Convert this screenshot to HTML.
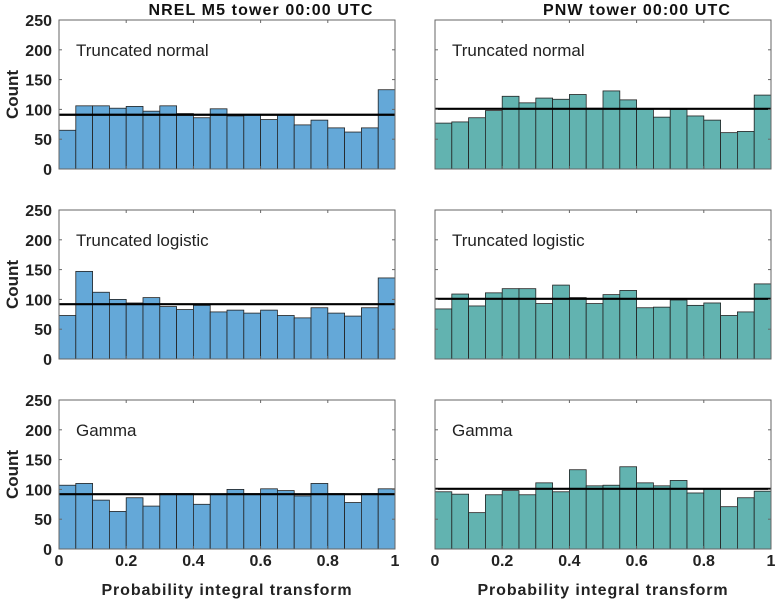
<!DOCTYPE html>
<html><head><meta charset="utf-8"><style>
body{margin:0;background:#fff;}
svg{display:block;font-family:"Liberation Sans",sans-serif;}
</style></head><body>
<svg id="fig" width="776" height="601"></svg>
<script>
const binEdgesCount = 20;
const xTicks = [0,0.2,0.4,0.6,0.8,1];
const xTickLabels = ["0","0.2","0.4","0.6","0.8","1"];
const yTicks = [0,50,100,150,200,250];
const columnTitles = ["NREL M5 tower 00:00 UTC","PNW tower 00:00 UTC"];
const rowLabels = ["Truncated normal","Truncated logistic","Gamma"];
const nrelNormal = [65,106,106,102,105,97,106,93,86,101,89,91,83,91,74,82,69,62,69,133];
const pnwNormal = [77,79,86,98,122,111,119,117,125,102,131,116,100,87,100,89,82,61,63,124];
const nrelLogistic = [73,147,112,100,94,103,88,83,90,79,82,77,82,73,69,86,77,72,86,136];
const pnwLogistic = [84,109,89,111,118,118,93,124,103,93,108,115,86,87,99,90,94,73,79,126];
const nrelGamma = [107,110,82,63,86,72,93,93,75,92,100,93,101,98,89,110,93,78,93,101];
const pnwGamma = [96,92,61,91,98,91,111,96,133,106,107,138,111,106,115,94,101,71,86,97];
const nrelUniform = [91,92,92];
const pnwUniform = [101,101,101];

const series = [[nrelNormal,pnwNormal],[nrelLogistic,pnwLogistic],[nrelGamma,pnwGamma]];
const colX = [59,435], axW = 336, rowY = [20,210,400], axH = 149;
const titleX = [261,637];
const fills = ["#64a8d8","#62b3b0"];
const NS = "http://www.w3.org/2000/svg";
const svg = document.getElementById('fig');
function mk(tag, attrs, parent){const e=document.createElementNS(NS,tag);for(const k in attrs)e.setAttribute(k,attrs[k]);(parent||svg).appendChild(e);return e;}

columnTitles.forEach((t,c)=>{
  const e=mk('text',{x:titleX[c],y:15,'text-anchor':'middle','font-size':16,'font-weight':'bold','letter-spacing':1.1,fill:'#111'});
  e.textContent=t;
  
  
});

for(let r=0;r<3;r++){
  for(let c=0;c<2;c++){
    const x0=colX[c], y0=rowY[r];
    const sx=v=>x0+v*axW;
    const sy=v=>y0+axH-v/250*axH;
    const g=mk('g',{});
    
    
    mk('rect',{x:x0,y:y0,width:axW,height:axH,fill:'#fff',stroke:'none'},g);
    const vals=series[r][c];
    vals.forEach((v,i)=>{
      const b=mk('rect',{x:sx(i/binEdgesCount),y:sy(v),width:axW/binEdgesCount,height:sy(0)-sy(v),fill:fills[c],stroke:'#222','stroke-width':0.8},g);
      
      
    });
    const u=(c===0?nrelUniform:pnwUniform)[r];
    const ln=mk('line',{x1:x0,x2:x0+axW,y1:sy(u),y2:sy(u),stroke:'#000','stroke-width':2.2},g);
    
    
    mk('rect',{x:x0,y:y0,width:axW,height:axH,fill:'none',stroke:'#666','stroke-width':1},g);
    xTicks.forEach(t=>{
      mk('line',{x1:sx(t),x2:sx(t),y1:y0,y2:y0+3,stroke:'#666'},g);
      mk('line',{x1:sx(t),x2:sx(t),y1:y0+axH,y2:y0+axH-3,stroke:'#666'},g);
    });
    yTicks.forEach(t=>{
      mk('line',{x1:x0,x2:x0+3,y1:sy(t),y2:sy(t),stroke:'#666'},g);
      mk('line',{x1:x0+axW,x2:x0+axW-3,y1:sy(t),y2:sy(t),stroke:'#666'},g);
      if(c===0){
        const tl=mk('text',{x:x0-7,y:sy(t)+6,'text-anchor':'end','font-size':16,'font-weight':'bold',fill:'#222'},g);
        tl.textContent=t;
        
        
      }
    });
    const lab=mk('text',{x:x0+17,y:y0+36,'font-size':17,fill:'#222'},g);
    lab.textContent=rowLabels[r];
    
    
    if(c===0){
      const yl=mk('text',{x:0,y:0,transform:`translate(18,${y0+axH/2}) rotate(-90)`,'text-anchor':'middle','font-size':17,'font-weight':'bold',fill:'#222'},g);
      yl.textContent='Count';
      
      
    }
    if(r===2){
      xTicks.forEach((t,i)=>{
        const xl=mk('text',{x:sx(t),y:y0+axH+17,'text-anchor':'middle','font-size':16,'font-weight':'bold',fill:'#222'},g);
        xl.textContent=xTickLabels[i];
        
        
      });
      const xt=mk('text',{x:x0+axW/2,y:y0+axH+46,'text-anchor':'middle','font-size':16,'font-weight':'bold','letter-spacing':0.9,fill:'#222'},g);
      xt.textContent='Probability integral transform';
      
      
    }
  }
}
</script>
</body></html>
